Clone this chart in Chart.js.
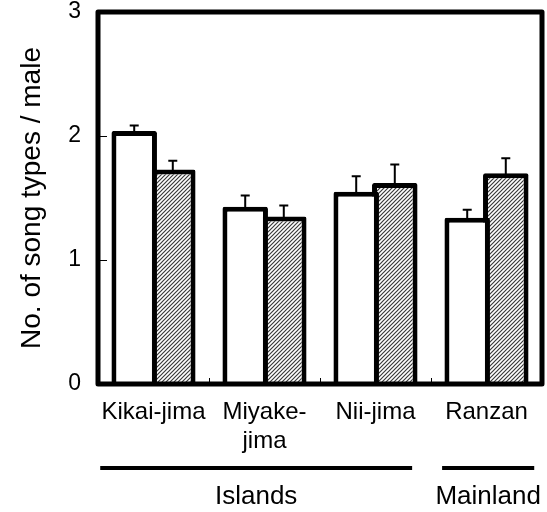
<!DOCTYPE html>
<html>
<head>
<meta charset="utf-8">
<script src="https://cdn.jsdelivr.net/npm/chart.js@4.4.0/dist/chart.umd.min.js"></script>
<style>
  html, body { margin: 0; padding: 0; background: #fff; }
  #wrap { width: 547px; height: 512px; }
</style>
</head>
<body>
<div id="wrap"><canvas id="songs"></canvas></div>
<script>
const sites = [['Kikai-jima'], ['Miyake-', 'jima'], ['Nii-jima'], ['Ranzan']]
const whiteMeans = [2.04, 1.43, 1.55, 1.34]
const whiteErr = [0.045, 0.09, 0.125, 0.065]
const hatchMeans = [1.73, 1.35, 1.62, 1.70]
const hatchErr = [0.07, 0.09, 0.15, 0.12]
const yTicks = [0, 1, 2, 3]
// region bars under the labels: from / to in category units
const groups = [
  { label: 'Islands', from: -0.48, to: 2.33 },
  { label: 'Mainland', from: 2.6, to: 3.43 }
]

const FONT = "'Liberation Sans', Arial, sans-serif"

const makeHatch = () => {
  const c = document.createElement('canvas')
  c.width = 4
  c.height = 4
  const g = c.getContext('2d')
  g.fillStyle = '#fff'
  g.fillRect(0, 0, 4, 4)
  g.strokeStyle = '#3a3a3a'
  g.lineWidth = 1.2
  g.beginPath()
  g.moveTo(0, 4); g.lineTo(4, 0)
  g.moveTo(-1, 1); g.lineTo(1, -1)
  g.moveTo(3, 5); g.lineTo(5, 3)
  g.stroke()
  return g.createPattern(c, 'repeat')
}

// error bars, drawn upward only
const errorBars = {
  id: 'errorBars',
  afterDatasetsDraw(chart) {
    const { ctx } = chart
    const y = chart.scales.y
    chart.data.datasets.forEach((ds, di) => {
      const meta = chart.getDatasetMeta(di)
      meta.data.forEach((bar, i) => {
        const top = y.getPixelForValue(ds.data[i] + ds.errors[i])
        ctx.save()
        ctx.strokeStyle = '#000'
        ctx.lineWidth = 2
        ctx.beginPath()
        ctx.moveTo(bar.x, bar.y + 1)
        ctx.lineTo(bar.x, top)
        ctx.moveTo(bar.x - 4.5, top)
        ctx.lineTo(bar.x + 4.5, top)
        ctx.stroke()
        ctx.restore()
      })
    })
  }
}

// frame, inward ticks, region lines and labels
const frame = {
  id: 'frame',
  afterDraw(chart) {
    const { ctx, chartArea: a } = chart
    const x = chart.scales.x
    const y = chart.scales.y
    ctx.save()
    ctx.strokeStyle = '#000'
    ctx.lineWidth = 1
    ctx.beginPath()
    yTicks.slice(1, -1).forEach(v => {
      const py = Math.round(y.getPixelForValue(v)) + 0.5
      ctx.moveTo(a.left, py)
      ctx.lineTo(a.left + 9, py)
    })
    for (let i = 0; i < sites.length - 1; i++) {
      const px = Math.round(x.getPixelForValue(i + 0.5)) + 0.5
      ctx.moveTo(px, a.bottom)
      ctx.lineTo(px, a.bottom - 6)
    }
    ctx.stroke()

    ctx.lineWidth = 5
    ctx.lineJoin = 'round'
    ctx.strokeRect(a.left, a.top, a.right - a.left, a.bottom - a.top)

    ctx.lineWidth = 4
    ctx.fillStyle = '#000'
    ctx.font = '26px ' + FONT
    ctx.textAlign = 'center'
    ctx.textBaseline = 'middle'
    groups.forEach(g => {
      const x0 = x.getPixelForValue(g.from)
      const x1 = x.getPixelForValue(g.to)
      ctx.beginPath()
      ctx.moveTo(x0, 468)
      ctx.lineTo(x1, 468)
      ctx.stroke()
      ctx.fillText(g.label, (x0 + x1) / 2, 497)
    })
    ctx.restore()
  }
}

const hatch = makeHatch()

new Chart(document.getElementById('songs'), {
  type: 'bar',
  data: {
    labels: sites,
    datasets: [
      {
        data: whiteMeans,
        errors: whiteErr,
        backgroundColor: '#fff',
        borderColor: '#000',
        borderWidth: 5,
        borderRadius: 2,
        borderSkipped: 'start'
      },
      {
        data: hatchMeans,
        errors: hatchErr,
        backgroundColor: hatch,
        borderColor: '#000',
        borderWidth: 5,
        borderRadius: 2,
        borderSkipped: 'start'
      }
    ]
  },
  options: {
    responsive: true,
    maintainAspectRatio: false,
    animation: false,
    categoryPercentage: 0.695,
    barPercentage: 1.18,
    layout: { padding: { top: 12, right: 5, left: 0, bottom: 0 } },
    plugins: {
      legend: { display: false },
      tooltip: { enabled: false }
    },
    scales: {
      x: {
        grid: { display: false, drawTicks: false },
        border: { display: false },
        ticks: {
          color: '#000',
          padding: 14,
          maxRotation: 0,
          autoSkip: false,
          font: { family: FONT, size: 24, lineHeight: 1.2 }
        },
        afterFit: s => { s.height = 128; s.paddingLeft = 0; s.paddingRight = 0 }
      },
      y: {
        min: 0,
        max: 3,
        grid: { display: false, drawTicks: false },
        border: { display: false },
        afterBuildTicks: s => { s.ticks = yTicks.map(v => ({ value: v })) },
        ticks: {
          color: '#000',
          padding: 17,
          font: { family: FONT, size: 23 }
        },
        title: {
          display: true,
          text: 'No. of song types / male',
          color: '#000',
          padding: { top: 15 },
          font: { family: FONT, size: 28, lineHeight: 1.2 }
        },
        afterFit: s => { s.width = 98; s.paddingTop = 0; s.paddingBottom = 0 }
      }
    }
  },
  plugins: [errorBars, frame]
})
</script>
</body>
</html>
